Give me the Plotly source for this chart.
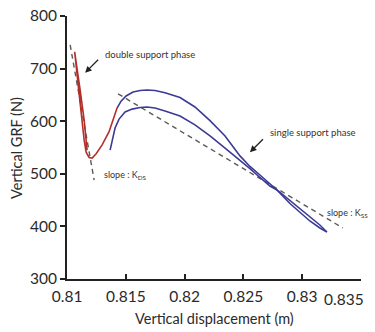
import plotly.graph_objects as go

# Double support phase (red)
ds_x = [0.81170, 0.81145, 0.81111, 0.81085, 0.81068, 0.81064, 0.81072, 0.81094, 0.81119,
        0.81145, 0.81162, 0.81187, 0.81213, 0.81247, 0.81298, 0.81357, 0.81425]
ds_y = [545, 602, 659, 697, 726, 732, 716, 669, 612, 564, 541, 531, 530, 538, 555, 580, 625]

# Single support phase, upper curve (blue)
ss1_x = [0.81425, 0.81459, 0.81502, 0.81561, 0.81621, 0.81680, 0.81748, 0.81833, 0.81961,
         0.82088, 0.82216, 0.82344, 0.82471, 0.82556, 0.82641, 0.82726, 0.82786, 0.82896,
         0.82981, 0.83066, 0.83151, 0.83211]
ss1_y = [625, 638, 648, 655.5, 658.4, 659.3, 658.4, 654, 645, 627, 601, 572, 534, 514,
         497.7, 481.6, 469.2, 443.5, 426.4, 410.3, 397, 389.4]

# Single support phase, lower curve (blue)
ss2_x = [0.81366, 0.81383, 0.81408, 0.81442, 0.81493, 0.81553, 0.81621, 0.81680, 0.81748,
         0.81833, 0.81961, 0.82088, 0.82216, 0.82344, 0.82471, 0.82556, 0.82641, 0.82726,
         0.82786, 0.82896, 0.82981, 0.83066, 0.83151, 0.83211]
ss2_y = [545, 564, 587, 604, 617.5, 623, 626, 627, 625, 619.4, 610, 593, 572, 549, 526,
         510, 493, 476.8, 469.2, 449.2, 434, 418.8, 402.7, 389.4]

# Slope lines (dashed)
kds_x = [0.81026, 0.81230]
kds_y = [745, 488]
kss_x = [0.81434, 0.83347]
kss_y = [652, 397]

x_ticks = [0.81, 0.815, 0.82, 0.825, 0.83, 0.835]
x_tick_text = ["0.81", "0.815", "0.82", "0.825", "0.83", ""]
last_x_label = "0.835"
y_ticks = [300, 400, 500, 600, 700, 800]

FONT = "Lato"
TXT = "#2a2a2a"

W, H = 375, 332
L, R, T, B = 67, 14, 16, 53
pw, ph = W - L - R, H - T - B


def px(xp):
    return (xp - L) / pw


def py(yp):
    return (H - B - yp) / ph


fig = go.Figure()
fig.add_trace(go.Scatter(x=kds_x, y=kds_y, mode="lines",
                         line=dict(color="#5a5a5a", width=1.4, dash="5px,4px")))
fig.add_trace(go.Scatter(x=kss_x, y=kss_y, mode="lines",
                         line=dict(color="#5a5a5a", width=1.4, dash="5px,4px")))
fig.add_trace(go.Scatter(x=ss1_x, y=ss1_y, mode="lines", line=dict(color="#3c3a96", width=1.6)))
fig.add_trace(go.Scatter(x=ss2_x, y=ss2_y, mode="lines", line=dict(color="#3c3a96", width=1.6)))
fig.add_trace(go.Scatter(x=ds_x, y=ds_y, mode="lines", line=dict(color="#b3302a", width=1.6)))

ann_font = dict(family=FONT, size=9.5, color="#333333")
slope_font = dict(family=FONT, size=9, color="#333333")
annotations = [
    dict(x=0.81306, y=726, text="double support phase", showarrow=False, xanchor="left",
         yanchor="middle", font=ann_font),
    dict(x=0.81153, y=692, text=" ", showarrow=True, ax=15, ay=-15, arrowhead=2, arrowsize=1,
         arrowwidth=1.3, arrowcolor="#222222", font=dict(size=2)),
    dict(x=0.82709, y=578, text="single support phase", showarrow=False, xanchor="left",
         yanchor="middle", font=ann_font),
    dict(x=0.82556, y=541, text=" ", showarrow=True, ax=15, ay=-15, arrowhead=2, arrowsize=1,
         arrowwidth=1.3, arrowcolor="#222222", font=dict(size=2)),
    dict(x=0.81298, y=498, text="slope : K<sub>DS</sub>", showarrow=False, xanchor="left",
         yanchor="middle", font=slope_font),
    dict(x=0.83194, y=425, text="slope : K<sub>SS</sub>", showarrow=False, xanchor="left",
         yanchor="middle", font=slope_font),
    dict(x=px(214), y=py(318), xref="paper", yref="paper",
         text="Vertical displacement (m)", showarrow=False,
         xanchor="center", yanchor="middle",
         font=dict(family=FONT, size=14.5, color=TXT)),
    dict(x=px(16), y=py(148), xref="paper", yref="paper",
         text="Vertical GRF (N)", showarrow=False, textangle=-90,
         xanchor="center", yanchor="middle",
         font=dict(family=FONT, size=14.5, color=TXT)),
    dict(x=px(366), y=py(299), xref="paper", yref="paper",
         text=last_x_label, showarrow=False, xanchor="right", yanchor="middle",
         font=dict(family=FONT, size=15.5, color=TXT)),
]

fig.update_layout(
    width=W, height=H,
    margin=dict(l=L, r=R, t=T, b=B, autoexpand=False),
    paper_bgcolor="white", plot_bgcolor="white",
    showlegend=False,
    font=dict(family=FONT, color=TXT),
    annotations=annotations,
    xaxis=dict(range=[0.80999, 0.83501], tickvals=x_ticks, ticktext=x_tick_text,
               automargin=False, ticklabeloverflow="allow", ticklabelstandoff=3,
               showgrid=False, zeroline=False, showline=True, linecolor="#222222", linewidth=1.6,
               ticks="inside", ticklen=5, tickwidth=1.6, tickcolor="#222222",
               tickfont=dict(family=FONT, size=15.5, color=TXT)),
    yaxis=dict(range=[300, 800], tickvals=y_ticks, automargin=False,
               ticklabeloverflow="allow",
               showgrid=False, zeroline=False, showline=True, linecolor="#222222", linewidth=1.6,
               ticks="outside", ticklen=5, tickwidth=1.6, tickcolor="#222222",
               tickfont=dict(family=FONT, size=15.5, color=TXT)),
)

fig.write_html("out.html", config={"displayModeBar": False},
               post_script="document.body.style.margin='0px';")
